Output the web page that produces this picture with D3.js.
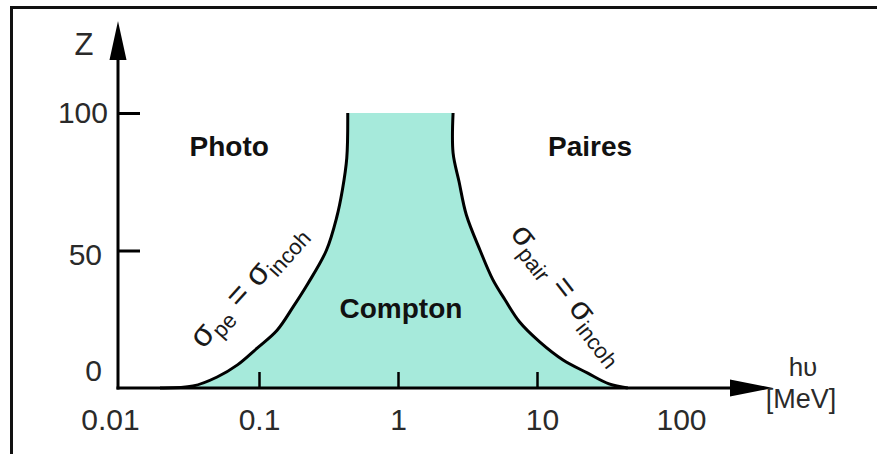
<!DOCTYPE html>
<html>
<head>
<meta charset="utf-8">
<script src="https://cdn.jsdelivr.net/npm/d3@7"></script>
<style>
  html, body { margin: 0; padding: 0; background: #fff; }
  svg { display: block; font-family: "Liberation Sans", Arial, sans-serif; }
</style>
</head>
<body>
<svg width="877" height="454"></svg>
<script>
// data
const xTickValues = [0.01, 0.1, 1, 10, 100];
const xTickLabels = ["0.01", "0.1", "1", "10", "100"];
const xTickMarks = [0.1, 1, 10];
const yTickValues = [0, 50, 100];
const yTickMarks = [50, 100];

// sigma_pe = sigma_incoh boundary (E in MeV, Z)
const peE = [0.0194, 0.0335, 0.05, 0.07, 0.097, 0.135, 0.176, 0.225, 0.305, 0.362, 0.398, 0.428, 0.435];
const peZ = [0, 0.7, 4, 8.4, 14.5, 21, 29.5, 38, 50, 62, 72, 83.6, 100];

// sigma_pair = sigma_incoh boundary
const pairE = [2.49, 2.49, 2.75, 3.1, 3.9, 4.8, 5.9, 7.5, 10.5, 15.4, 23, 33, 45];
const pairZ = [100, 85.5, 75, 63, 50, 39.5, 32, 24, 16.7, 10.2, 5.5, 1.5, 0];

const regionNames = ["Photo", "Compton", "Paires"];

const svg = d3.select("svg");

// scales
const x = d3.scaleLog().domain([0.01, 100]).range([120, 676]);
const y = d3.scaleLinear().domain([0, 100]).range([388, 113]);

// frame (only left and top visible)
svg.append("path")
  .attr("d", "M11.5,454 L11.5,7.5 L877,7.5")
  .attr("fill", "none")
  .attr("stroke", "#111")
  .attr("stroke-width", 3);

const line = d3.line()
  .x(d => x(d[0]))
  .y(d => y(d[1]))
  .curve(d3.curveCatmullRom.alpha(0.5));

const pePts = peE.map((e, i) => [e, peZ[i]]);
const pairPts = pairE.map((e, i) => [e, pairZ[i]]);

// Compton region fill
svg.append("path")
  .attr("d", line(pePts) + line(pairPts).replace(/^M/, "L") + "Z")
  .attr("fill", "#a6eadb")
  .attr("stroke", "none");

// boundaries
[pePts, pairPts].forEach(pts => {
  svg.append("path")
    .attr("d", line(pts))
    .attr("fill", "none")
    .attr("stroke", "#000")
    .attr("stroke-width", 3);
});

// axis lines with arrow heads
const x0 = 118, y0 = y(0);
svg.append("line")
  .attr("x1", x0).attr("y1", y0 + 1.5)
  .attr("x2", x0).attr("y2", 40)
  .attr("stroke", "#000").attr("stroke-width", 3);
svg.append("path")
  .attr("d", `M${x0},21 L${x0 + 8.5},60 L${x0 - 8.5},60 Z`)
  .attr("fill", "#000");

svg.append("line")
  .attr("x1", x0 - 1.5).attr("y1", y0)
  .attr("x2", 750).attr("y2", y0)
  .attr("stroke", "#000").attr("stroke-width", 3);
svg.append("path")
  .attr("d", `M773,${y0} L730,${y0 - 8.5} L730,${y0 + 8.5} Z`)
  .attr("fill", "#000");

// x tick marks (pointing up)
const gxMarks = svg.append("g")
  .attr("transform", `translate(0,${y0})`)
  .call(d3.axisBottom(x).tickValues(xTickMarks).tickSize(-16).tickFormat(""));
gxMarks.select(".domain").remove();
gxMarks.selectAll(".tick line").attr("stroke", "#000").attr("stroke-width", 2.5);

// x tick labels
const gxLabels = svg.append("g")
  .attr("transform", `translate(0,${y0})`)
  .call(d3.axisBottom(x).tickValues(xTickValues).tickSize(0).tickPadding(21)
    .tickFormat((d, i) => xTickLabels[i]));
gxLabels.select(".domain").remove();
gxLabels.selectAll(".tick text")
  .attr("font-size", 30)
  .attr("font-family", "Liberation Sans, Arial, sans-serif")
  .attr("fill", "#2a2a2a")
  .attr("dx", (d, i) => i === 0 ? -10 : (i >= 3 ? 5 : 0));

// y tick marks (pointing right)
const gyMarks = svg.append("g")
  .attr("transform", `translate(${x0},0)`)
  .call(d3.axisLeft(y).tickValues(yTickMarks).tickSize(-22).tickFormat(""));
gyMarks.select(".domain").remove();
gyMarks.selectAll(".tick line").attr("stroke", "#000").attr("stroke-width", 3);

// y tick labels
const gyLabels = svg.append("g")
  .attr("transform", `translate(${x0},0)`)
  .call(d3.axisLeft(y).tickValues(yTickValues).tickSize(0).tickPadding(16));
gyLabels.select(".domain").remove();
gyLabels.selectAll(".tick text")
  .attr("font-size", 30)
  .attr("font-family", "Liberation Sans, Arial, sans-serif")
  .attr("fill", "#2a2a2a")
  .attr("dx", d => d === 100 ? 6 : 0)
  .attr("dy", d => d === 0 ? "-0.25em" : (d === 50 ? "0.45em" : "0.32em"));

// axis titles
svg.append("text")
  .attr("x", 84).attr("y", 55)
  .attr("text-anchor", "middle")
  .attr("font-size", 31)
  .attr("fill", "#2a2a2a")
  .text("Z");

svg.append("text")
  .attr("x", 803).attr("y", 376)
  .attr("text-anchor", "middle")
  .attr("font-size", 26)
  .attr("fill", "#2a2a2a")
  .text("hυ");

svg.append("text")
  .attr("x", 801).attr("y", 408)
  .attr("text-anchor", "middle")
  .attr("font-size", 27)
  .attr("fill", "#2a2a2a")
  .text("[MeV]");

// region labels
const regionPos = [[0.061, 84.4], [1.05, 25.5], [24.1, 84.4]];
regionNames.forEach((name, i) => {
  svg.append("text")
    .attr("x", x(regionPos[i][0]))
    .attr("y", y(regionPos[i][1]))
    .attr("text-anchor", "middle")
    .attr("font-size", 28)
    .attr("font-weight", "bold")
    .attr("fill", "#111")
    .text(name);
});

// rotated boundary labels
function sigmaLabel(cx, cy, angle, sub1) {
  const t = svg.append("text")
    .attr("transform", `translate(${cx},${cy}) rotate(${angle})`)
    .attr("text-anchor", "middle")
    .attr("fill", "#1a1a1a");
  t.append("tspan").attr("font-size", 33).text("σ");
  t.append("tspan").attr("font-size", 22).attr("dy", 7).text(sub1);
  t.append("tspan").attr("font-size", 33).attr("dy", -7).text(" = σ");
  t.append("tspan").attr("font-size", 22).attr("dy", 7).text("incoh");
}
sigmaLabel(255, 292, -48, "pe");
sigmaLabel(561, 300, 52, "pair");
</script>
</body>
</html>
